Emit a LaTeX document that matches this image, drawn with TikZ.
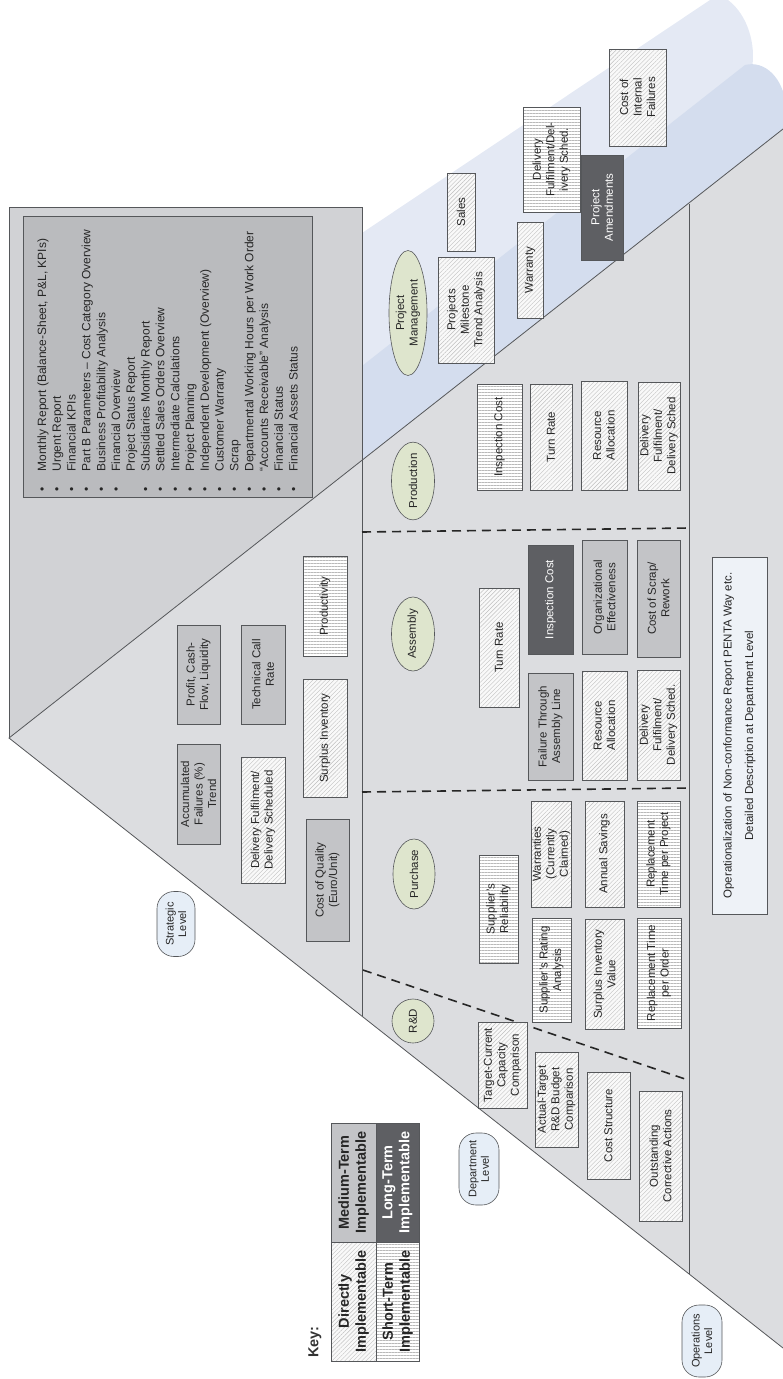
\documentclass[tikz,border=0pt]{standalone}
\usepackage{fontspec}
\setmainfont{Liberation Sans}
\usetikzlibrary{shapes.geometric,patterns.meta}
\definecolor{pyrgrey}{HTML}{DCDDE0}
\definecolor{rectgrey}{HTML}{D1D2D5}
\definecolor{listgrey}{HTML}{BABBBE}
\definecolor{midgrey}{HTML}{C3C4C7}
\definecolor{darkgrey}{HTML}{5E5F63}
\definecolor{edgegrey}{HTML}{55575A}
\definecolor{bandlight}{HTML}{E4E9F4}
\definecolor{banddark}{HTML}{D4DDEE}
\definecolor{deptgreen}{HTML}{DEE5CD}
\definecolor{pillblue}{HTML}{E6EEF7}
\definecolor{operblue}{HTML}{EEF2F7}

\begin{document}
\begin{tikzpicture}[x=1pt, y=-1pt,
  every node/.style={font=\fontsize{11.5}{13.5}\selectfont, text=black!85, align=center, rotate=90, inner sep=1pt},
  box/.style={rectangle, draw=edgegrey, line width=0.6pt},
  hatchbox/.style={box, preaction={fill=gray!5}, pattern={Lines[angle=45,distance=3pt,line width=0.4pt]}, pattern color=gray!50},
  stripebox/.style={box, preaction={fill=white}, pattern={Lines[angle=0,distance=3pt,line width=0.4pt]}, pattern color=gray!55},
  midbox/.style={box, fill=midgrey},
  darkbox/.style={box, fill=darkgrey, text=white},
  dept/.style={ellipse, draw=edgegrey, line width=0.6pt, fill=deptgreen, inner sep=0pt},
  levelpill/.style={rectangle, rounded corners=17pt, draw=edgegrey, line width=0.6pt, fill=pillblue, font=\fontsize{11}{12.5}\selectfont},
  keycell/.style={font=\bfseries\fontsize{14.5}{17}\selectfont, minimum width=119pt},
  divider/.style={black!85, line width=1.6pt, dash pattern=on 9pt off 6pt}]
  \useasboundingbox (0,0) rectangle (783,1379);
  \begin{scope}
    \clip (0,0) rectangle (783,1379);
    \fill[bandlight] (362,470) -- (362,233) -- (710,0) -- (728,0) .. controls (748,15) and (756,45) .. (752,68) -- (745,100) -- (362,420) -- cycle;
    \fill[banddark] (362,470) -- (362,366) -- (745,65) .. controls (765,60) and (783,78) .. (786,105) -- (786,140) -- cycle;
  \end{scope}
  \filldraw[fill=rectgrey, draw=edgegrey, line width=0.7pt] (9,207) rectangle (362,738);
  \fill[pyrgrey] (9,738) -- (783,129) -- (783,1348) -- cycle;
  \draw[edgegrey, line width=0.8pt] (783,129) -- (9,738) -- (783,1348);
  \draw[edgegrey, line width=0.7pt] (362,207) -- (362,1016);
  \draw[edgegrey, line width=0.7pt] (689,204) -- (689,1274);
  \filldraw[fill=listgrey, draw=edgegrey, line width=0.7pt] (23,216) rectangle (312,497);
  \node[anchor=north west, inner sep=0pt, align=left, font=\fontsize{12}{14.8}\selectfont] (reports) at (35.5,492) {%
    \begin{tabular}{@{}l@{\hspace{16pt}}l@{}}
      \textbullet & Monthly Report (Balance-Sheet, P\&L, KPIs)\\
      \textbullet & Urgent Report\\
      \textbullet & Financial KPIs\\
      \textbullet & Part B Parameters -- Cost Category Overview\\
      \textbullet & Business Profitability Analysis\\
      \textbullet & Financial Overview\\
                  & Project Status Report\\
      \textbullet & Subsidiaries Monthly Report\\
      \textbullet & Settled Sales Orders Overview\\
      \textbullet & Intermediate Calculations\\
      \textbullet & Project Planning\\
      \textbullet & Independent Development (Overview)\\
      \textbullet & Customer Warranty\\
      \textbullet & Scrap\\
      \textbullet & Departmental Working Hours per Work Order\\
      \textbullet & ``Accounts Receivable'' Analysis\\
      \textbullet & Financial Status\\
      \textbullet & Financial Assets Status
    \end{tabular}};
  \draw[divider] (363,970) -- (688,1080);
  \draw[divider] (362,792) -- (689,788);
  \draw[divider] (362,532) -- (689,528);
  \node[midbox, minimum width=100pt, minimum height=43pt] (accfail) at (198.5,794) {Accumulated\\Failures (\%)\\Trend};
  \node[midbox, minimum width=99pt, minimum height=43pt] (profit) at (198.5,674.5) {Profit, Cash-\\Flow, Liquidity};
  \node[midbox, minimum width=99pt, minimum height=44pt] (techcall) at (263,674.5) {Technical Call\\Rate};
  \node[hatchbox, minimum width=126pt, minimum height=44pt] (delstrat) at (263,820) {Delivery Fulfilment/\\Delivery Scheduled};
  \node[hatchbox, minimum width=118pt, minimum height=44pt] (surplus) at (325,738) {Surplus Inventory};
  \node[stripebox, minimum width=100pt, minimum height=44pt] (productivity) at (325,606) {Productivity};
  \node[midbox, minimum width=122pt, minimum height=43pt] (costqual) at (327.5,880) {Cost of Quality\\(Euro/Unit)};
  \node[dept, minimum width=44pt, minimum height=42pt] (rd) at (413,1021) {R\&D};
  \node[hatchbox, minimum width=86pt, minimum height=49pt] (target) at (502.5,1065) {Target-Current\\Capacity\\Comparison};
  \node[hatchbox, minimum width=95pt, minimum height=43pt] (actual) at (556.5,1099.5) {Actual-Target\\R\&D Budget\\Comparison};
  \node[hatchbox, minimum width=107pt, minimum height=43pt] (coststruct) at (608.5,1125.5) {Cost Structure};
  \node[hatchbox, minimum width=130pt, minimum height=43pt] (outstanding) at (660.5,1156) {Outstanding\\Corrective Actions};
  \node[dept, minimum width=70pt, minimum height=42pt] (purchase) at (414,874) {Purchase};
  \node[stripebox, minimum width=108pt, minimum height=39pt] (supprel) at (498.5,909) {Supplier's\\Reliability};
  \node[stripebox, minimum width=104pt, minimum height=39pt] (supprat) at (551.5,970) {Supplier's Rating\\Analysis};
  \node[hatchbox, minimum width=106pt, minimum height=39pt] (warranties) at (551.5,854) {Warranties\\(Currently\\Claimed)};
  \node[hatchbox, minimum width=110pt, minimum height=39pt] (survalue) at (604.5,974) {Surplus Inventory\\Value};
  \node[hatchbox, minimum width=106pt, minimum height=39pt] (savings) at (604.5,854) {Annual Savings};
  \node[stripebox, minimum width=110pt, minimum height=44pt] (reporder) at (659,973) {Replacement Time\\per Order};
  \node[stripebox, minimum width=106pt, minimum height=43pt] (repproj) at (658.5,854) {Replacement\\Time per Project};
  \node[dept, minimum width=74pt, minimum height=43pt] (assembly) at (413,634) {Assembly};
  \node[hatchbox, minimum width=119pt, minimum height=40pt] (turnasm) at (499,647.5) {Turn Rate};
  \node[darkbox, minimum width=109pt, minimum height=45pt] (inspasm) at (550.5,599.5) {Inspection Cost};
  \node[midbox, minimum width=107pt, minimum height=45pt] (failure) at (550.5,726.5) {Failure Through\\Assembly Line};
  \node[midbox, minimum width=114pt, minimum height=45pt] (orgeff) at (604.5,597) {Organizational\\Effectiveness};
  \node[hatchbox, minimum width=109pt, minimum height=45pt] (resasm) at (604.5,725.5) {Resource\\Allocation};
  \node[midbox, minimum width=117pt, minimum height=43pt] (scrap) at (658.5,598.5) {Cost of Scrap/\\Rework};
  \node[hatchbox, minimum width=110pt, minimum height=43pt] (delasm) at (658.5,725) {Delivery\\Fulfilment/\\Delivery Sched.};
  \node[dept, minimum width=76pt, minimum height=43pt] (production) at (413,481) {Production};
  \node[stripebox, minimum width=106pt, minimum height=45pt] (insprod) at (499.5,437) {Inspection Cost};
  \node[hatchbox, minimum width=106pt, minimum height=42pt] (turnprod) at (551,437) {Turn Rate};
  \node[hatchbox, minimum width=109pt, minimum height=46pt] (resprod) at (604,435.5) {Resource\\Allocation};
  \node[hatchbox, minimum width=108pt, minimum height=42pt] (delprod) at (659,436) {Delivery\\Fulfilment/\\Delivery Sched};
  \node[dept, minimum width=125pt, minimum height=38pt] (projman) at (408,313) {Project\\Management};
  \node[hatchbox, minimum width=106pt, minimum height=56pt] (milestone) at (466,310) {Projects\\Milestone\\Trend Analysis};
  \node[hatchbox, minimum width=78pt, minimum height=28pt] (sales) at (461,212) {Sales};
  \node[hatchbox, minimum width=96pt, minimum height=26pt] (warranty) at (530,270) {Warranty};
  \node[stripebox, minimum width=105pt, minimum height=57pt] (delpm) at (551.5,159.5) {Delivery\\Fulfilment/Del-\\ivery Sched.};
  \node[darkbox, minimum width=105pt, minimum height=42pt] (amend) at (602,207.5) {Project\\Amendments};
  \node[hatchbox, minimum width=97pt, minimum height=57pt] (internal) at (637.5,97.5) {Cost of\\Internal\\Failures};
  \node[box, fill=operblue, minimum width=357pt, minimum height=55pt] (operation) at (739.5,735.5) {Operationalization of Non-conformance Report PENTA Way etc.\\[8pt]Detailed Description at Department Level};
  \node[levelpill, minimum width=65pt, minimum height=38pt] (strategic) at (176,924) {Strategic\\Level};
  \node[levelpill, minimum width=72pt, minimum height=40pt] (department) at (479,1169) {Department\\Level};
  \node[levelpill, minimum width=72pt, minimum height=40pt] (operations) at (702,1341) {Operations\\Level};
  \node[font=\bfseries\fontsize{14.5}{17}\selectfont, text=black!80] (keylabel) at (315,1342) {Key:};
  \node[hatchbox, keycell, minimum height=45pt] (direct) at (353.5,1301.5) {Directly\\Implementable};
  \node[midbox, keycell, minimum height=45pt] (medium) at (353.5,1182.5) {Medium-Term\\Implementable};
  \node[stripebox, keycell, minimum height=43pt] (short) at (397.5,1301.5) {Short-Term\\Implementable};
  \node[darkbox, keycell, minimum height=43pt] (long) at (397.5,1182.5) {Long-Term\\Implementable};
\end{tikzpicture}
\end{document}
